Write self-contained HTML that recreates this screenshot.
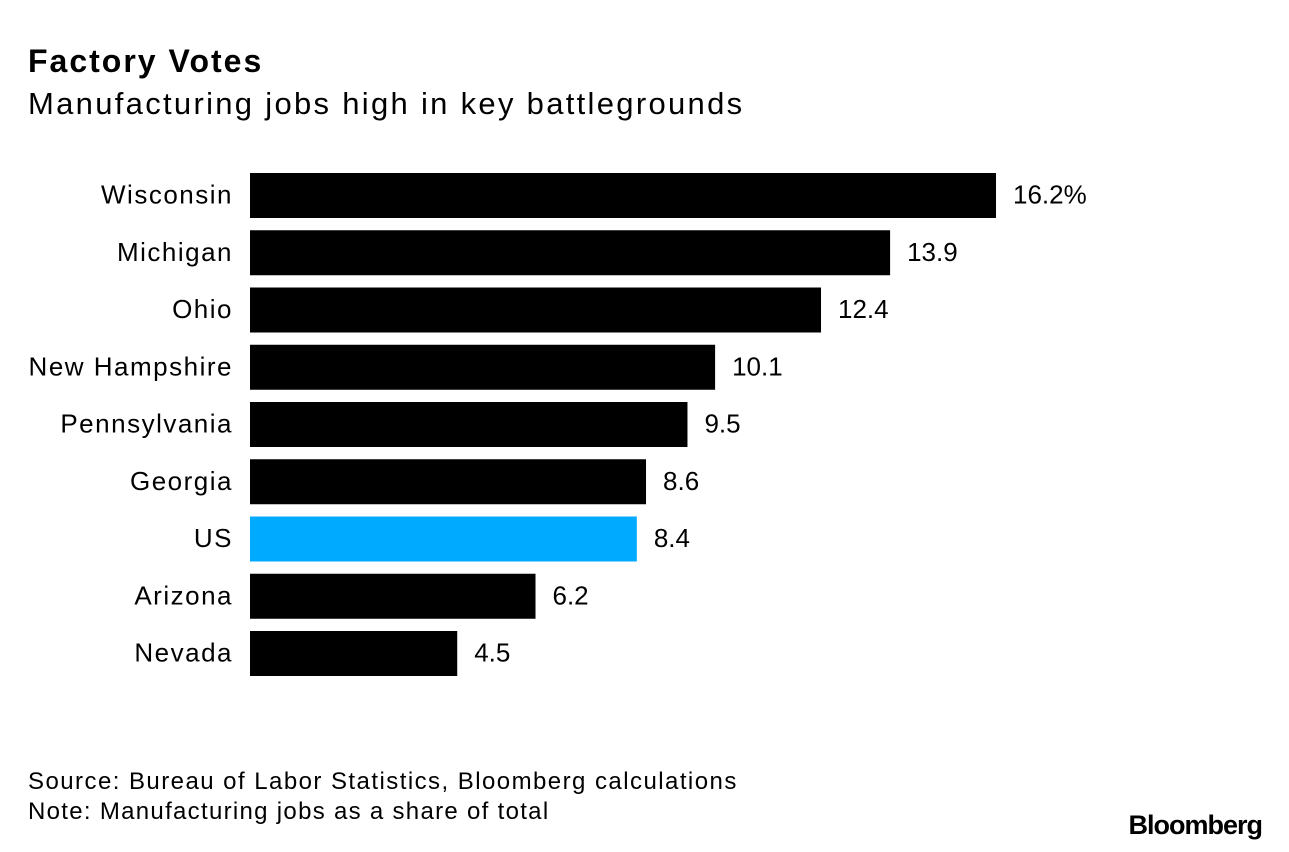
<!DOCTYPE html>
<html><head><meta charset="utf-8"><style>
body{margin:0;background:#fff;width:1289px;height:852px;overflow:hidden;font-family:"Liberation Sans",sans-serif;color:#000;position:relative}
.t{position:absolute;white-space:nowrap}
</style></head><body>
<div class="t" style="left:28px;top:43px;font-size:32px;font-weight:bold;letter-spacing:2px">Factory Votes</div>
<div class="t" style="left:28px;top:86px;font-size:31px;letter-spacing:2.3px">Manufacturing jobs high in key battlegrounds</div>
<svg id="chart" width="1289" height="852" style="position:absolute;left:0;top:0"></svg>
<div class="t" style="left:28px;top:768px;font-size:24px;letter-spacing:1.45px">Source: Bureau of Labor Statistics, Bloomberg calculations</div>
<div class="t" style="left:28px;top:798px;font-size:24px;letter-spacing:1.3px">Note: Manufacturing jobs as a share of total</div>
<div class="t" style="right:27px;top:810px;font-size:27px;font-weight:bold;letter-spacing:-1px">Bloomberg</div>
<script>
const categories=["Wisconsin","Michigan","Ohio","New Hampshire","Pennsylvania","Georgia","US","Arizona","Nevada"];
const values=[16.2,13.9,12.4,10.1,9.5,8.6,8.4,6.2,4.5];
const valueLabels=["16.2%","13.9","12.4","10.1","9.5","8.6","8.4","6.2","4.5"];
const highlight=["US"];
const svg=document.getElementById('chart');
const NS='http://www.w3.org/2000/svg';
const x0=250,scale=46.05,y0=173,step=57.25,bh=45;
const xs=v=>x0+v*scale;
const ys=i=>y0+i*step;
categories.forEach((c,i)=>{
  const r=document.createElementNS(NS,'rect');
  r.setAttribute('x',x0);r.setAttribute('y',ys(i));
  r.setAttribute('width',xs(values[i])-x0);r.setAttribute('height',bh);
  r.setAttribute('fill',highlight.includes(c)?'#00aaff':'#000');
  
  
  svg.appendChild(r);
  const l=document.createElementNS(NS,'text');
  l.setAttribute('x',233);l.setAttribute('y',ys(i)+bh/2+8);
  l.setAttribute('text-anchor','end');l.setAttribute('font-size','26');
  l.setAttribute('letter-spacing','1.5');
  l.setAttribute('font-family','Liberation Sans, sans-serif');
  l.textContent=c;
  
  
  svg.appendChild(l);
  const v=document.createElementNS(NS,'text');
  v.setAttribute('x',xs(values[i])+17);v.setAttribute('y',ys(i)+bh/2+8);
  v.setAttribute('font-size','26');
  v.setAttribute('font-family','Liberation Sans, sans-serif');
  v.textContent=valueLabels[i];
  
  
  svg.appendChild(v);
});
</script>
</body></html>
